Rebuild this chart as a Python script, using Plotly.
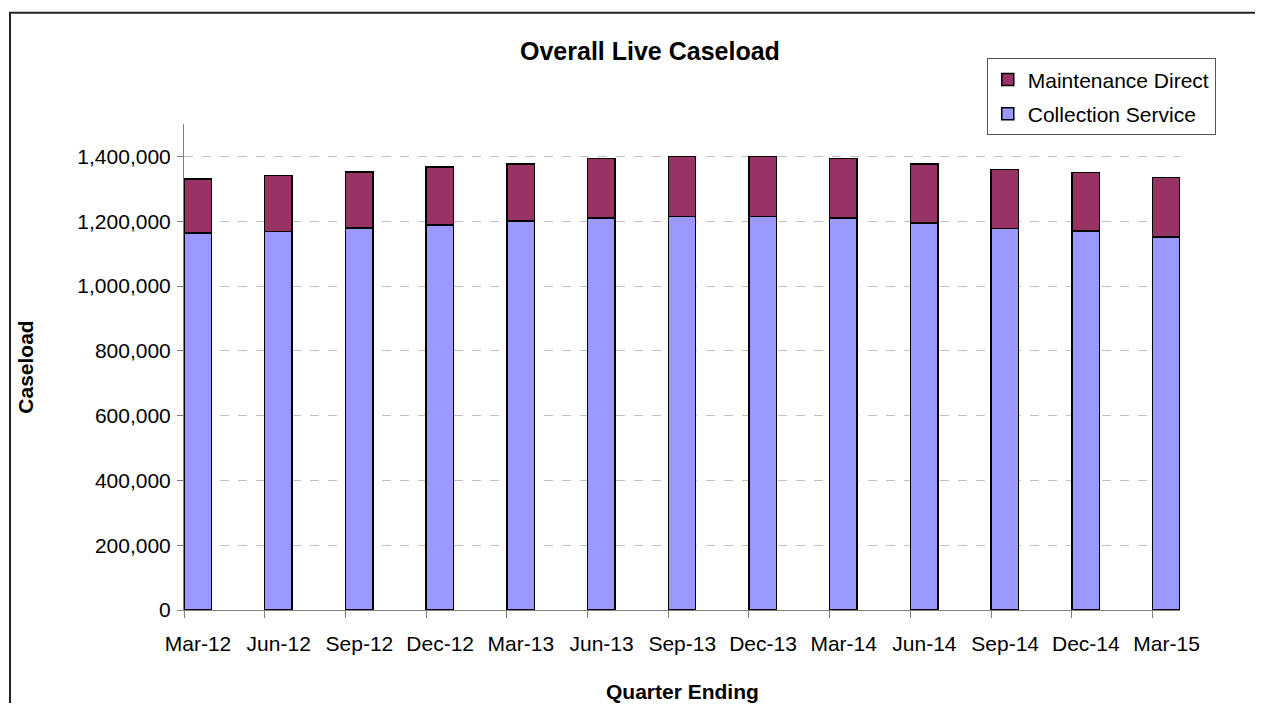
import plotly.graph_objects as go

FONT = "Liberation Sans, Arial, sans-serif"
COLLECTION_COLOR = "#9999FF"
MAINTENANCE_COLOR = "#993366"
AXIS_GREY = "#808080"

quarters = ["Mar-12", "Jun-12", "Sep-12", "Dec-12", "Mar-13", "Jun-13", "Sep-13",
            "Dec-13", "Mar-14", "Jun-14", "Sep-14", "Dec-14", "Mar-15"]
collection_service = [1163000, 1168000, 1179000, 1188000, 1200000, 1210000, 1215000,
                      1215000, 1210000, 1194000, 1178000, 1169000, 1151000]
maintenance_direct = [168000, 173000, 173000, 179000, 177000, 183000, 184000,
                      184000, 183000, 183000, 182000, 182000, 184000]

fig = go.Figure()

# Balken beginnen am Tick (Excel-Datumsachse), daher offset=0
for name, vals, color, rank in [
    ("Collection Service", collection_service, COLLECTION_COLOR, 2),
    ("Maintenance Direct", maintenance_direct, MAINTENANCE_COLOR, 1),
]:
    fig.add_trace(go.Bar(
        x=quarters, y=vals, name=name, legendgroup=name, legendrank=rank,
        width=0.34, offset=0,
        marker=dict(color=color, line=dict(color="#000000", width=1.5)),
    ))

# Seite hat 8px Body-Rand -> Figur entsprechend kleiner
fig.update_layout(
    barmode="stack",
    width=1247, height=695,
    margin=dict(l=176, r=75, t=116, b=93, autoexpand=False),
    paper_bgcolor="white", plot_bgcolor="white",
    font=dict(family=FONT, size=21, color="#000000"),
    showlegend=True,
    legend=dict(
        x=0.806, y=1.135, xanchor="left", yanchor="top",
        traceorder="grouped", tracegroupgap=4,
        bgcolor="white", bordercolor="#555555", borderwidth=1,
        font=dict(family=FONT, size=21),
    ),
    xaxis=dict(
        type="category", range=[0, 12.34],
        showline=True, linecolor=AXIS_GREY, linewidth=1,
        ticks="outside", ticklen=7, tickcolor=AXIS_GREY,
        ticklabelshift=14, ticklabelstandoff=8,
        showgrid=False, zeroline=False,
        automargin=False,
    ),
    yaxis=dict(
        range=[0, 1500000], dtick=200000, tickformat=",",
        showline=True, linecolor=AXIS_GREY, linewidth=1,
        ticks="outside", ticklen=6, tickcolor=AXIS_GREY,
        ticklabelstandoff=2,
        showgrid=True, gridcolor="#C0C0C0", griddash="dash", gridwidth=1,
        zeroline=False,
        title=dict(text="<b>Caseload</b>", standoff=38, font=dict(size=21)),
        automargin=False,
    ),
)

fig.add_annotation(
    text="<b>Overall Live Caseload</b>",
    xref="paper", yref="paper", x=0.468, y=1.151,
    xanchor="center", yanchor="middle", showarrow=False,
    font=dict(family=FONT, size=25, color="#000000"),
)

# x-Achsentitel als Annotation
fig.add_annotation(
    text="<b>Quarter Ending</b>",
    xref="paper", yref="paper", x=0.5, y=-0.168,
    xanchor="center", yanchor="middle", showarrow=False,
    font=dict(family=FONT, size=21, color="#000000"),
)

# Rahmen des Diagrammbereichs
fig.add_shape(
    type="rect", xref="paper", yref="paper",
    x0=-0.1747, x1=1.09, y0=-0.3, y1=1.229,
    line=dict(color="#222222", width=2), layer="below",
)

fig.write_html("out.html")
